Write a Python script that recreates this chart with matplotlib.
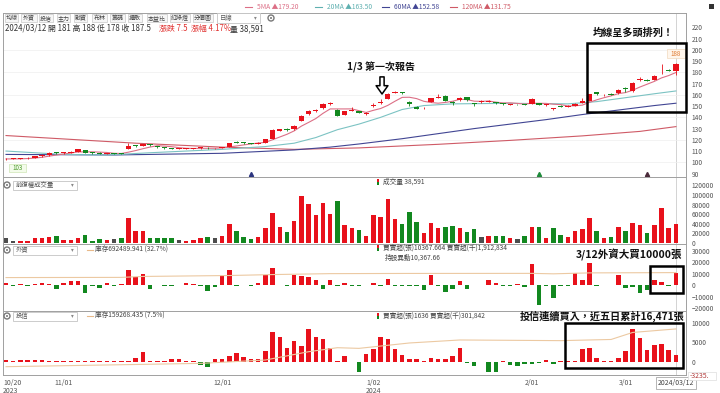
import numpy as np
import pandas as pd
import matplotlib.pyplot as plt
from matplotlib.patches import Rectangle, Ellipse
from matplotlib.lines import Line2D
from matplotlib.transforms import blended_transform_factory

plt.rcParams['font.family'] = ['Noto Sans CJK TC', 'DejaVu Sans']

W, H = 720, 393

# daily candles, 2023/10/20 .. 2024/03/12 (94 trading days)
opens = [102.5, 103.0, 102.8, 103.5, 104.0, 105.3, 106.5, 109.0, 108.0, 108.5,
         109.5, 110.5, 108.8, 108.5, 107.5, 108.0, 108.0, 112.2, 115.0, 114.5,
         116.0, 114.5, 113.2, 112.5, 112.0, 111.8, 112.2, 112.5, 113.0, 112.3,
         112.5, 114.0, 118.2, 117.4, 117.0, 116.6, 117.5, 121.0, 128.2, 129.8,
         129.5, 137.0, 143.0, 146.0, 148.0, 152.0, 146.5, 142.5, 146.0, 145.5,
         142.8, 150.0, 152.5, 156.5, 162.0, 162.5, 154.0, 149.5, 148.0, 154.0,
         157.5, 159.0, 154.0, 155.5, 158.0, 152.5, 154.0, 153.8, 153.5, 152.2,
         151.3, 151.8, 151.8, 152.0, 152.5, 151.0, 147.0, 150.2, 149.5, 150.5,
         153.0, 155.0, 162.5, 159.5, 160.8, 161.5, 165.8, 163.5, 173.0, 173.5,
         173.5, 180.0, 182.3, 181.0]
highs = [103.5, 103.5, 103.8, 104.5, 105.8, 107.0, 108.8, 109.5, 109.2, 110.0,
         112.0, 111.0, 109.0, 108.8, 108.3, 108.3, 108.3, 116.8, 115.3, 116.5,
         116.5, 114.8, 113.5, 112.8, 112.3, 112.5, 113.0, 113.3, 113.2, 112.8,
         113.8, 117.5, 118.8, 117.8, 117.2, 117.8, 120.8, 129.5, 130.0, 130.2,
         133.0, 142.0, 146.5, 147.5, 152.5, 153.5, 147.0, 146.0, 148.8, 146.0,
         144.5, 153.0, 156.0, 162.0, 163.5, 163.0, 154.5, 150.0, 149.0, 157.5,
         160.5, 159.5, 154.5, 158.0, 158.3, 153.0, 155.5, 155.5, 154.0, 152.5,
         152.0, 152.0, 152.0, 157.0, 153.0, 152.0, 148.5, 150.8, 151.0, 153.0,
         157.0, 161.0, 163.0, 160.5, 161.3, 165.0, 167.0, 171.5, 175.5, 174.0,
         177.5, 187.5, 183.0, 188.0]
lows = [102.0, 102.5, 102.5, 103.0, 103.8, 105.0, 106.0, 107.5, 107.8, 108.0,
        109.0, 108.0, 107.8, 107.2, 107.2, 107.5, 107.2, 112.0, 113.5, 114.3,
        114.8, 113.0, 112.2, 111.8, 111.6, 111.6, 112.0, 112.2, 112.0, 112.0,
        112.3, 113.8, 117.0, 116.6, 116.3, 116.4, 117.3, 120.5, 127.5, 128.0,
        129.0, 136.5, 142.5, 145.0, 147.5, 151.0, 141.0, 142.0, 145.5, 143.5,
        142.3, 149.0, 151.5, 156.0, 161.5, 161.0, 150.5, 147.0, 147.5, 153.5,
        157.0, 154.5, 151.0, 155.0, 155.0, 150.0, 153.0, 153.5, 152.0, 151.3,
        151.0, 151.0, 150.8, 151.5, 151.0, 150.5, 146.5, 149.0, 149.0, 150.0,
        152.5, 154.5, 160.0, 159.0, 160.0, 161.0, 163.0, 162.5, 172.5, 172.3,
        173.0, 178.5, 181.0, 178.0]
closes = [103.0, 103.0, 103.3, 104.0, 105.4, 106.5, 108.3, 108.0, 108.8, 109.5,
          111.5, 108.5, 108.2, 107.5, 108.0, 107.8, 107.6, 114.2, 114.6, 116.2,
          115.2, 113.5, 112.5, 112.0, 112.0, 112.3, 112.7, 113.0, 112.3, 112.3,
          113.5, 117.2, 117.4, 117.0, 116.6, 117.4, 120.3, 129.0, 129.2, 128.7,
          132.5, 141.5, 145.5, 146.3, 152.0, 152.2, 141.5, 145.5, 146.5, 144.0,
          144.3, 151.0, 153.5, 160.5, 162.5, 161.5, 151.5, 147.5, 148.5, 157.0,
          158.5, 155.0, 152.5, 157.5, 155.5, 151.5, 154.0, 154.3, 152.5, 151.8,
          151.9, 151.6, 151.2, 156.5, 151.3, 151.5, 148.0, 149.4, 150.5, 152.0,
          154.5, 160.5, 160.5, 159.8, 160.3, 164.5, 165.2, 171.0, 174.0, 172.8,
          177.0, 180.8, 181.5, 187.5]

# moving averages (index, value)
ma20_idx = [0, 8, 14, 20, 30, 36, 40, 43, 46, 49, 52, 55, 58, 62, 70, 78, 82, 86, 90, 93]
ma20_val = [110, 107, 106.5, 108.5, 111.5, 114, 117, 122, 129, 134, 140, 147, 150.5, 152, 152.5, 152, 154, 157.5, 161, 163.5]
ma60_idx = [0, 15, 30, 40, 45, 49, 55, 60, 65, 70, 75, 80, 85, 90, 93]
ma60_val = [107, 106.5, 108, 111, 113.5, 116.3, 121, 125.5, 130, 134, 138, 142.5, 146.5, 150.5, 152.58]
ma120_idx = [0, 18, 30, 40, 49, 60, 70, 80, 88, 93]
ma120_val = [123.8, 117, 113.5, 111.5, 112.8, 116, 119.5, 123.5, 127.5, 131.75]

volume = [11000, 4800, 4800, 4800, 10400, 10400, 12500, 14600, 6250, 6250,
          10400, 17300, 4200, 8300, 6250, 8300, 11000, 51400, 25000, 25000,
          11000, 11000, 10400, 10400, 6250, 4800, 6250, 10400, 12500, 10400,
          14600, 39600, 25000, 12500, 8300, 13200, 30600, 63200, 32600, 22900,
          45800, 97900, 81250, 58300, 82600, 59700, 87500, 37500, 30600, 27000,
          14600, 58300, 53500, 91700, 49400, 39000, 65300, 44400, 20100, 42400,
          31900, 32600, 36000, 30600, 22200, 28500, 11800, 14600, 14600, 14600,
          9700, 7600, 14600, 34000, 34000, 11000, 30600, 16700, 11800, 25000,
          28500, 51400, 25600, 9700, 13300, 34000, 25000, 42400, 37500, 20100,
          37500, 72300, 30600, 38591]
vol_dir = ("kkrrrrrgrrrgggrkgrrrggggkrrrgkrrgggrrrrgrrrrrrgrr"
           "grrrrrgggrrrggrggkrggrkgrgrggrrrrgrgrgrrgrrrr")

foreign = [1500, -500, 1000, -300, 1000, 2000, 1000, -3700, 1500, 3700,
           3700, -6600, -300, -2000, 1500, -500, 1000, 13500, 7200, 9500,
           -3700, -200, -1000, -1000, 200, 1500, 1000, -600, -4900, -1500,
           7800, 12900, -800, -200, -1000, 2000, 9200, 15300, 200, -300,
           8600, 7800, 7200, 4300, -3400, 4300, -500, 2300, -600, -500,
           300, 1500, -300, 5800, -500, -500, -300, -300, -4300, 8600,
           -800, -5800, -2900, 3700, -3700, -200, 300, 4300, 1500, -500,
           -500, 1000, -1500, 18100, -17200, -300, -11500, -1000, -500, 10600,
           4300, 19500, -800, 200, -200, 8600, -2000, -1500, -6600, -4300,
           4300, 2900, -300, 10368]
foreign_hold_idx = [0, 16, 19, 31, 37, 45, 55, 73, 76, 81, 93]
foreign_hold = [560000, 565000, 590000, 615000, 640000, 665000, 670000, 672000, 660000, 685000, 692489]

trust = [430, 100, 430, 430, 430, 430, 100, 0, 0, 0,
         0, 100, 0, 0, 0, 0, 100, 0, 1030, 2560,
         170, 0, 0, 600, 600, 300, 300, -850, -1280, 600,
         600, 1450, 2140, 1200, 600, 600, 2740, 7700, 6400, 3430,
         5400, 4000, 8400, 6400, 5800, 3430, 100, 1450, -200, -2560,
         1880, 3250, 6250, 5740, 3250, 1710, 680, 600, 250, 1030,
         680, 680, 1450, 3430, -300, -1030, -100, -2560, -2560, 100,
         -850, -1030, -700, -600, -300, 430, -700, 0, 100, 100,
         3170, 3600, 850, 0, 200, 850, 2740, 8400, 6000, 3000,
         4300, 4500, 3035, 1636]
trust_hold_idx = [0, 27, 36, 42, 46, 49, 56, 63, 77, 84, 87, 93]
trust_hold = [62470, 70970, 79570, 100870, 111170, 109470, 123270, 130970, 129270, 132270, 150270, 159268]

date_pos = [0, 8, 30, 51, 73, 86]
date_lbl = ['10/20', '11/01', '12/01', '1/02', '2/01', '3/01']
year_pos = [0, 51]
year_lbl = ['2023', '2024']

RED, GREEN, GRAY = '#e8111b', '#12881f', '#4d4d4d'
x = np.arange(len(closes))

fig = plt.figure(figsize=(7.2, 3.93), dpi=100)


def fx(px):
    return px / W


def fy(py):
    return 1 - py / H


def right_ticks(ax):
    ax.yaxis.tick_right()
    ax.tick_params(axis='y', length=0, labelsize=4.8, labelcolor='#555555', pad=4)


def panel(y0, y1):
    ax = fig.add_axes([fx(3), fy(y1), (686 - 3) / W, (y1 - y0) / H])
    ax.set_xlim(-0.42, 94.4)
    ax.set_xticks([])
    right_ticks(ax)
    for s in ax.spines.values():
        s.set_color('#a0a0a0')
        s.set_linewidth(0.7)
    ax.axvline(93, color='#cccccc', lw=0.6, zorder=0)
    return ax


def ftext(px, py, s, **kw):
    kw.setdefault('va', 'center')
    kw.setdefault('fontsize', 5)
    kw.setdefault('color', '#444444')
    fig.text(fx(px), fy(py), s, **kw)


def frect(x0, y0, x1, y1, **kw):
    fig.add_artist(Rectangle((fx(x0), fy(y1)), (x1 - x0) / W, (y1 - y0) / H,
                             transform=fig.transFigure, **kw))


def gear(px, py):
    fig.add_artist(Ellipse((fx(px), fy(py)), 6 / W, 6 / H, transform=fig.transFigure,
                           fc='white', ec='#777777', lw=1.0))
    fig.add_artist(Ellipse((fx(px), fy(py)), 2 / W, 2 / H, transform=fig.transFigure,
                           fc='#777777', ec='none'))


def dropdown(x0, x1, py, label):
    frect(x0, py - 4.5, x1, py + 4.5, fc='white', ec='#c4c4c4', lw=0.6)
    ftext(x0 + 3, py, label, fontsize=4.6, color='#555555')
    ftext(x1 - 6, py, '▾', fontsize=4, color='#888888')


def flow_bars(ax, vals):
    # tiny values still show as a short dash, like the original chart
    shown = [v if abs(v) >= 150 else (150 if v >= 0 else -150) for v in vals]
    ax.bar(x, shown, width=0.62, color=[RED if v >= 0 else GREEN for v in vals], zorder=3)


# ---- price panel ----
axp = panel(13, 177)
axp.set_ylim(86.9, 232.9)
axp.set_yticks(range(90, 221, 10))
for g in range(100, 201, 20):
    axp.axhline(g, color='#efefef', lw=0.5, zorder=0)

ma5 = pd.Series(closes).rolling(5, min_periods=1).mean()
axp.plot(ma120_idx, ma120_val, color='#cf5a66', lw=0.8, zorder=2)
axp.plot(ma60_idx, ma60_val, color='#414593', lw=0.8, zorder=2)
axp.plot(ma20_idx, ma20_val, color='#7cc3c3', lw=0.8, zorder=2)
axp.plot(x, ma5, color='#dc6f86', lw=0.8, zorder=2)

o = np.array(opens)
c = np.array(closes)
ccols = [RED if cc >= oo else GREEN for oo, cc in zip(o, c)]
axp.vlines(x, lows, highs, colors=ccols, lw=0.6, zorder=3)
axp.bar(x, np.maximum(np.abs(c - o), 0.7), bottom=np.minimum(o, c), width=0.74,
        color=ccols, zorder=4)

# event markers at the bottom of the price panel
axp.plot([34], [89.5], marker='^', ms=3, color='#2c3580', ls='none')
axp.plot([74], [89.5], marker='^', ms=3, color='#1e8a3a', ls='none')
axp.plot([89], [89.5], marker='^', ms=3, color='#4a2a3a', ls='none')

# high / low tags
frect(667, 49, 685, 58, fc='#fff6ec', ec='#f2d9bd', lw=0.5)
ftext(676, 53.5, '188', ha='center', fontsize=4.5, color='#e07a30')
frect(9, 164, 26, 172, fc='#f3fbea', ec='#cfe6b5', lw=0.5)
ftext(17.5, 168, '103', ha='center', fontsize=4.5, color='#4a9a2a')

# 1/3 annotation with hollow arrow
axp.annotate('', xy=(52.2, 158.3), xytext=(52.2, 178.5),
             arrowprops=dict(arrowstyle='simple,head_width=0.85,head_length=0.6,tail_width=0.3',
                             fc='white', ec='black', lw=1.1, mutation_scale=10))
ftext(347, 67, '1/3 第一次報告', fontsize=7.2, fontweight='bold', color='#111111')
ftext(593, 33, '均線呈多頭排列！', fontsize=7.3, fontweight='bold', color='#111111')
frect(587, 43, 686, 112, fc='none', ec='black', lw=1.8)

# ---- volume panel ----
axv = panel(177, 244)
axv.set_ylim(-2100, 137500)
axv.set_yticks(range(0, 120001, 20000))
cmap = {'r': RED, 'g': GREEN, 'k': GRAY}
axv.bar(x, volume, width=0.62, color=[cmap[d] for d in vol_dir], zorder=3)

# ---- foreign investors panel ----
axf = panel(244, 311)
axf.set_ylim(-22400, 35800)
flow_bars(axf, foreign)
axf2 = axf.twinx()
axf2.set_ylim(-331000, 1455000)
axf2.plot(foreign_hold_idx, foreign_hold, color='#ecc9a2', lw=0.8)
axf2.axis('off')
right_ticks(axf)
axf.set_yticks(range(-20000, 30001, 10000))
ftext(576, 255, '3/12外資大買10000張', fontsize=7.6, fontweight='bold', color='#111111')
frect(650, 266, 683, 293, fc='none', ec='black', lw=1.8)

# ---- investment trust panel ----
axt = panel(311, 375)
axt.set_ylim(-3410, 13000)
flow_bars(axt, trust)
axt2 = axt.twinx()
axt2.set_ylim(41168, 205268)
axt2.plot(trust_hold_idx, trust_hold, color='#ecc9a2', lw=0.8)
axt2.axis('off')
right_ticks(axt)
axt.set_yticks([0, 5000, 10000])
ftext(520, 316, '投信連續買入，近五日累計16,471張', fontsize=7.3, fontweight='bold', color='#111111')
frect(565, 323, 683, 368, fc='none', ec='black', lw=1.8)
frect(688, 372, 716, 380, fc='white', ec='#dddddd', lw=0.5)
ftext(690, 376, '-3235.', fontsize=5, color='#b03a3a')

# date axis
tr = blended_transform_factory(axt.transData, axt.transAxes)
for p, s in zip(date_pos, date_lbl):
    axt.text(p - (0.4 if p == 0 else 0), -0.06, s, transform=tr, fontsize=5, color='#555555',
             ha='left' if p == 0 else 'center', va='top')
for p, s in zip(year_pos, year_lbl):
    axt.text(p - (0.4 if p == 0 else 0), -0.18, s, transform=tr, fontsize=5, color='#555555',
             ha='left' if p == 0 else 'center', va='top')
axt.text(93, -0.06, '2024/03/12', transform=tr, fontsize=5, color='#444444', ha='center', va='top',
         bbox=dict(boxstyle='square,pad=0.25', fc='white', ec='#999999', lw=0.5))

# ---- header ----
ma_legend = [(245, '5MA ▲179.20', '#dc6f86'), (315, '20MA ▲163.50', '#5fb0b0'),
             (382, '60MA ▲152.58', '#414593'), (450, '120MA ▲131.75', '#cf5a66')]
for px, s, col in ma_legend:
    fig.add_artist(Line2D([fx(px), fx(px + 7)], [fy(7), fy(7)], color=col, lw=0.8,
                          transform=fig.transFigure))
    ftext(px + 12, 7, s, fontsize=4.8, color=col)
frect(709, 4, 714, 9, fc='#333333', ec='none')

buttons = [('均線', 5, 18), ('外資', 21, 37), ('投信', 39, 53), ('主力', 57, 70),
           ('融資', 74, 87), ('布林', 92, 107), ('籌碼', 110, 125), ('擴散', 128, 142),
           ('本益比', 147, 167), ('紅綠燈', 170, 190), ('分價圖', 193, 213)]
for s, x0, x1 in buttons:
    frect(x0, 14, x1, 22, fc='#f6f6f6', ec='#c8c8c8', lw=0.5)
    ftext((x0 + x1) / 2, 18, s, ha='center', fontsize=4.3, color='#444444')
dropdown(217, 260, 18, '日線')
gear(271, 18)

ftext(5, 28.5, '2024/03/12 開 181 高 188 低 178 收 187.5', fontsize=5.7, color='#333333')
ftext(159, 28.5, '漲跌 7.5  漲幅 4.17%', fontsize=5.7, color='#e0312f')
ftext(230, 28.5, '量 38,591', fontsize=5.7, color='#333333')

# sub-panel headers
for py, lbl in [(185, '前復權成交量'), (250, '外資'), (316, '投信')]:
    gear(7, py)
    dropdown(13, 77, py, lbl)


def two_tone(px, py):
    frect(px, py - 3, px + 2, py, fc=RED, ec='none')
    frect(px, py, px + 2, py + 3, fc=GREEN, ec='none')


two_tone(377, 182)
ftext(383, 182, '成交量 38,591', fontsize=4.8)
fig.add_artist(Line2D([fx(87), fx(93)], [fy(250), fy(250)], color='#e8b98a', lw=0.8,
                      transform=fig.transFigure))
ftext(95, 250, '庫存692489.941 (32.7%)', fontsize=4.8)
two_tone(377, 248)
ftext(383, 248, '買賣超(張)10367.664 買賣超(千)1,912,834', fontsize=4.8)
ftext(385, 257.5, '持股異動10,367.66', fontsize=4.8)
fig.add_artist(Line2D([fx(87), fx(93)], [fy(316), fy(316)], color='#e8b98a', lw=0.8,
                      transform=fig.transFigure))
ftext(95, 316, '庫存159268.435 (7.5%)', fontsize=4.8)
two_tone(377, 316)
ftext(383, 316, '買賣超(張)1636 買賣超(千)301,842', fontsize=4.8)

fig.savefig('out.png', dpi=100, facecolor='white')
